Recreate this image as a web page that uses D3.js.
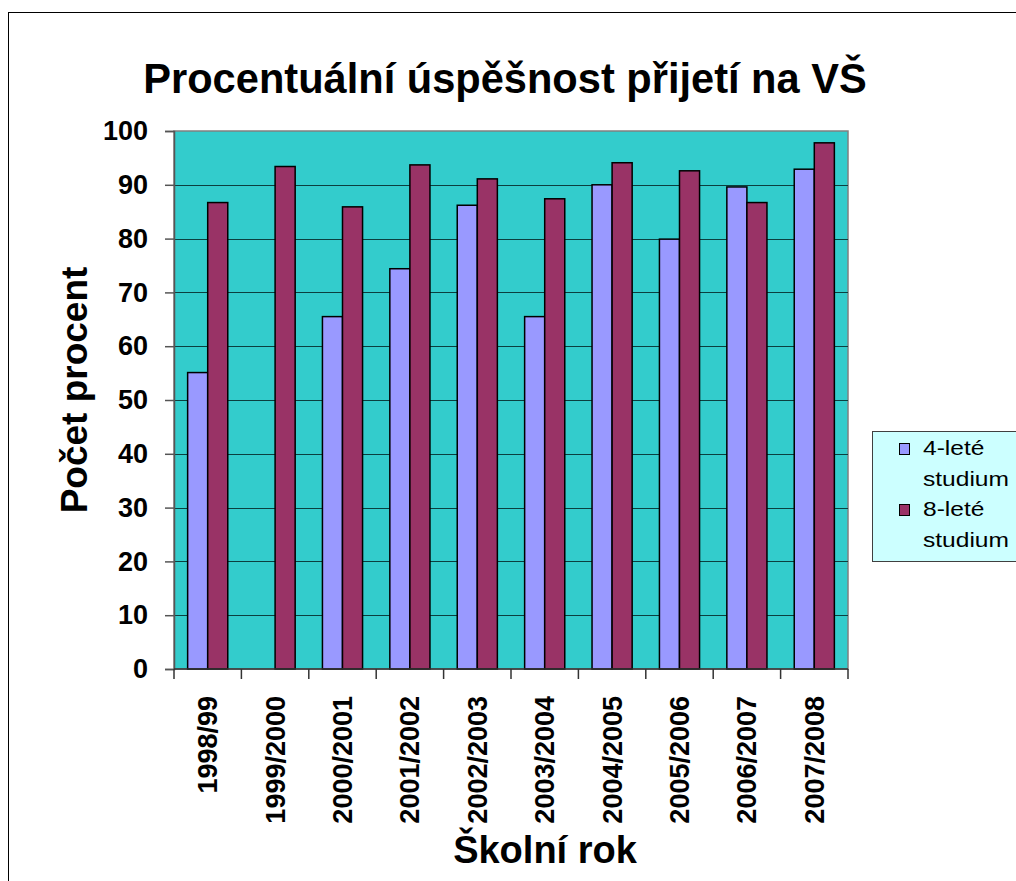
<!DOCTYPE html>
<html>
<head>
<meta charset="utf-8">
<script src="https://cdn.jsdelivr.net/npm/d3@7"></script>
<style>
    body { margin: 0; background: #fff; }
    svg { display: block; font-family: "Liberation Sans", Arial, sans-serif; }
</style>
</head>
<body>
<div id="chart"></div>
<script>
const years = ["1998/99", "1999/2000", "2000/2001", "2001/2002", "2002/2003",
    "2003/2004", "2004/2005", "2005/2006", "2006/2007", "2007/2008"];
const series = ["4-leté studium", "8-leté studium"];
const fourYear = [55.1, null, 65.5, 74.4, 86.2, 65.5, 90.0, 79.9, 89.6, 92.9];
const eightYear = [86.7, 93.4, 85.9, 93.7, 91.1, 87.4, 94.1, 92.6, 86.7, 97.8];
const yTicks = [0, 10, 20, 30, 40, 50, 60, 70, 80, 90, 100];
const colors = ["#9999FF", "#993366"];

const width = 1016, height = 881;
const plot = { left: 174, right: 848, top: 131, bottom: 669 };

const svg = d3.select("#chart")
    .append("svg")
    .attr("width", width)
    .attr("height", height);

// chart area border (runs off the right and bottom edge)
svg.append("rect")
    .attr("x", 8.5).attr("y", 12.5)
    .attr("width", 1100).attr("height", 1000)
    .attr("fill", "#fff")
    .attr("stroke", "#000");

// scales
const x0 = d3.scaleBand()
    .domain(years)
    .range([plot.left, plot.right])
    .padding(0);
const x1 = d3.scaleBand()
    .domain(series)
    .range([0, x0.bandwidth()])
    .paddingInner(0)
    .paddingOuter(0.68);
const y = d3.scaleLinear()
    .domain([0, 100])
    .range([plot.bottom, plot.top]);

// plot background
svg.append("rect")
    .attr("x", plot.left).attr("y", plot.top)
    .attr("width", plot.right - plot.left)
    .attr("height", plot.bottom - plot.top)
    .attr("fill", "#33CCCC")
    .attr("stroke", "#808080")
    .attr("stroke-width", 1.5);

// gridlines
svg.append("g")
    .selectAll("line")
    .data(yTicks.filter(d => d > 0 && d < 100))
    .join("line")
    .attr("x1", plot.left).attr("x2", plot.right)
    .attr("y1", d => Math.round(y(d)) + 0.5)
    .attr("y2", d => Math.round(y(d)) + 0.5)
    .attr("stroke", "#0b3f3f")
    .attr("stroke-width", 1);

// bars
const rows = years.map((yr, i) => ({ year: yr, values: [fourYear[i], eightYear[i]] }));
svg.append("g")
    .selectAll("g")
    .data(rows)
    .join("g")
    .attr("transform", d => `translate(${x0(d.year)},0)`)
    .selectAll("rect")
    .data(d => d.values.map((v, j) => ({ name: series[j], value: v, color: colors[j] })).filter(e => e.value != null))
    .join("rect")
    .attr("x", d => x1(d.name))
    .attr("y", d => y(d.value))
    .attr("width", x1.bandwidth())
    .attr("height", d => y(0) - y(d.value))
    .attr("fill", d => d.color)
    .attr("stroke", "#000")
    .attr("stroke-width", 1.5);

// y axis
const yAxis = d3.axisLeft(y)
    .tickValues(yTicks)
    .tickSize(9)
    .tickPadding(17);
const yg = svg.append("g")
    .attr("transform", `translate(${plot.left},0)`)
    .call(yAxis);
yg.select(".domain").attr("stroke", "#555").attr("stroke-width", 1.5);
yg.selectAll(".tick line").attr("stroke", "#555").attr("stroke-width", 1.5);
yg.selectAll(".tick text")
    .attr("fill", "#000")
    .style("font-size", "27px")
    .style("font-weight", "bold");

// x axis: ticks on category boundaries, labels rotated
const xg = svg.append("g")
    .attr("transform", `translate(0,${plot.bottom})`);
xg.append("line")
    .attr("x1", plot.left).attr("x2", plot.right)
    .attr("stroke", "#333").attr("stroke-width", 1.5);
xg.selectAll(".xtick")
    .data(years.map(d => x0(d)).concat([x0.range()[1]]))
    .join("line")
    .attr("class", "xtick")
    .attr("x1", d => d).attr("x2", d => d)
    .attr("y1", 0).attr("y2", 10)
    .attr("stroke", "#333").attr("stroke-width", 1.5);
xg.selectAll(".xlabel")
    .data(years)
    .join("text")
    .attr("class", "xlabel")
    .attr("transform", d => `translate(${x0(d) + x0.bandwidth() / 2},0) rotate(-90)`)
    .attr("x", -27)
    .attr("dy", "0.35em")
    .attr("text-anchor", "end")
    .style("font-size", "27px")
    .style("font-weight", "bold")
    .text(d => d);

// title
svg.append("text")
    .attr("x", 505).attr("y", 93)
    .attr("text-anchor", "middle")
    .style("font-size", "41.6px")
    .style("font-weight", "bold")
    .text("Procentuální úspěšnost přijetí na VŠ");

// axis titles
svg.append("text")
    .attr("transform", "translate(87,390) rotate(-90)")
    .attr("text-anchor", "middle")
    .style("font-size", "37px")
    .style("font-weight", "bold")
    .text("Počet procent");

svg.append("text")
    .attr("x", 545).attr("y", 863)
    .attr("text-anchor", "middle")
    .style("font-size", "38px")
    .style("font-weight", "bold")
    .text("Školní rok");

// legend
const legend = svg.append("g");
legend.append("rect")
    .attr("x", 872.5).attr("y", 431.5)
    .attr("width", 200).attr("height", 130)
    .attr("fill", "#CCFFFF")
    .attr("stroke", "#404040");
const items = legend.selectAll(".item")
    .data(series)
    .join("g")
    .attr("class", "item")
    .attr("transform", (d, i) => `translate(0,${443 + i * 61})`);
items.append("rect")
    .attr("x", 899.5).attr("y", 0.5)
    .attr("width", 10).attr("height", 11)
    .attr("fill", (d, i) => colors[i])
    .attr("stroke", "#000");
items.append("g")
    .attr("transform", "translate(923,0) scale(1.17,1)")
    .selectAll("text")
    .data(d => d.split(" "))
    .join("text")
    .attr("x", 0)
    .attr("y", (d, i) => 12 + i * 31)
    .style("font-size", "21px")
    .text(d => d);
</script>
</body>
</html>
